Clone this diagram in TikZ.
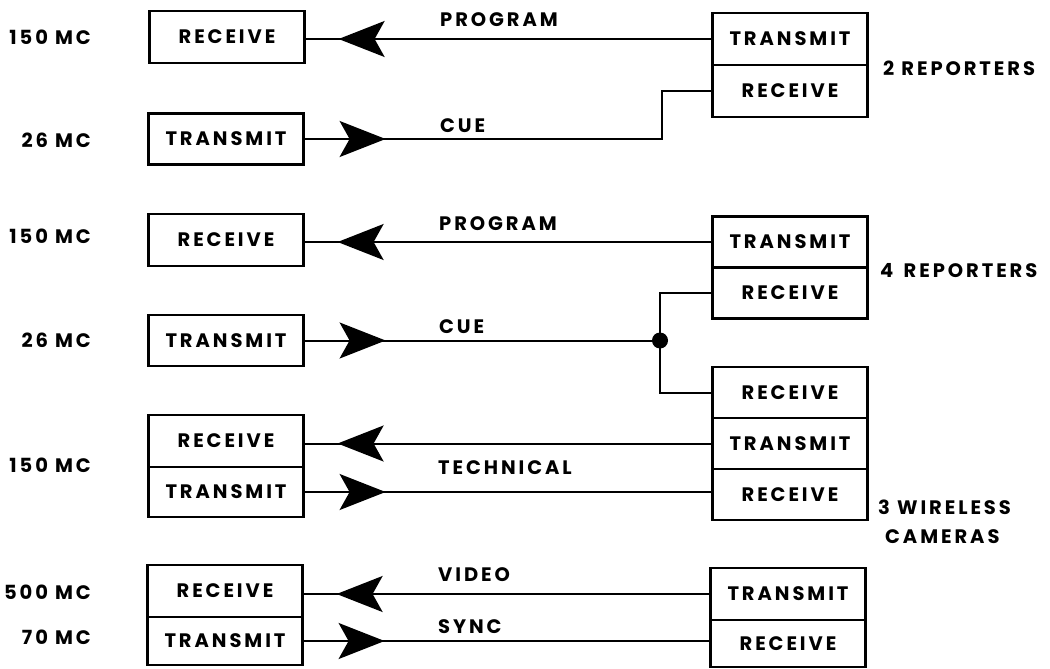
\documentclass[tikz,border=0pt]{standalone}
\usepackage{fontspec}
\setmainfont{Poppins}[LetterSpace=15]
\usetikzlibrary{arrows.meta,decorations.markings}
\newcommand\dlabfont{\fontsize{19.5}{19.5}\selectfont\bfseries}
\begin{document}
\begin{tikzpicture}[x=1pt,y=-1pt,
  box/.style={draw,line width=2.2pt,minimum width=155pt,minimum height=#1,inner sep=0pt,font=\dlabfont},
  box/.default=52pt,
  txt/.style={inner sep=0pt,font=\dlabfont},
  conn/.style={line width=2pt},
  tipL/.style={postaction={decorate},decoration={markings,mark=at position -33pt with {\arrow{Stealth[length=46pt,width=36pt,inset=10pt]}}}},
  tipR/.style={postaction={decorate},decoration={markings,mark=at position 81pt with {\arrow{Stealth[length=46pt,width=36pt,inset=10pt]}}}},
  junction/.style={circle,fill,inner sep=0pt,minimum size=16pt}]
\useasboundingbox (0,0) rectangle (1050,669);

% left boxes
\node[box] (l1) at (227,37) {RECEIVE};
\node[box=51pt] (l2) at (226,139) {TRANSMIT};
\node[box] (l3) at (226,240) {RECEIVE};
\node[box=51pt] (l4) at (226,340.5) {TRANSMIT};
\node[box] (l5) at (226,441) {RECEIVE};
\node[box=50pt] (l6) at (226,492) {TRANSMIT};
\node[box] (l7) at (225,591) {RECEIVE};
\node[box=48pt] (l8) at (225,641) {TRANSMIT};

% right boxes
\node[box] (r1t) at (790,39) {TRANSMIT};
\node[box] (r1r) at (790,91) {RECEIVE};
\node[box=51pt] (r2t) at (790,242) {TRANSMIT};
\node[box=51pt] (r2r) at (790,293) {RECEIVE};
\node[box=51pt] (c1) at (790,392.5) {RECEIVE};
\node[box=51pt] (c2) at (790,443.5) {TRANSMIT};
\node[box=51pt] (c3) at (790,494.5) {RECEIVE};
\node[box] (r4t) at (788,594) {TRANSMIT};
\node[box=47pt] (r4r) at (788,643.5) {RECEIVE};

% frequency labels
\node[txt,anchor=east] (f1) at (91,37) {150 MC};
\node[txt,anchor=east] (f2) at (91,140) {26 MC};
\node[txt,anchor=east] (f3) at (91,236) {150 MC};
\node[txt,anchor=east] (f4) at (91,340) {26 MC};
\node[txt,anchor=east] (f5) at (91,465) {150 MC};
\node[txt,anchor=east] (f6) at (91,592) {500 MC};
\node[txt,anchor=east] (f7) at (91,637) {70 MC};

% group labels
\node[txt,anchor=west] (g1) at (883,68) {2 REPORTERS};
\node[txt,anchor=west] (g2) at (880,271) {4\, REPORTERS};
\node[txt,anchor=west] (g3) at (878,507) {3 WIRELESS};
\node[txt,anchor=west] (g4) at (885,537) {CAMERAS};

% link labels
\node[txt,anchor=west] (p1) at (440,20) {PROGRAM};
\node[txt,anchor=west] (q1) at (440,126) {CUE};
\node[txt,anchor=west] (p2) at (439,224) {PROGRAM};
\node[txt,anchor=west] (q2) at (439,327) {CUE};
\node[txt,anchor=west] (t1) at (438,467.5) {TECHNICAL};
\node[txt,anchor=west] (v1) at (438,575) {VIDEO};
\node[txt,anchor=west] (s1) at (438,627) {SYNC};

% connectors
\coordinate (k1) at (662,0);
\node[junction] (j) at (660,340.5) {};

\draw[conn,tipL] (r1t.west) -- (r1t.west -| l1.east);
\draw[conn,tipR] (l2.east) -| (k1 |- r1r.west) -- (r1r.west);
\draw[conn,tipL] (r2t.west) -- (r2t.west -| l3.east);
\draw[conn,tipR] (l4.east) -- (j.center);
\draw[conn] (r2r.west) -| (j.center) |- (c1.west);
\draw[conn,tipL] (c2.west) -- (c2.west -| l5.east);
\draw[conn,tipR] (l6.east) -- (l6.east -| c3.west);
\draw[conn,tipL] (r4t.west) -- (r4t.west -| l7.east);
\draw[conn,tipR] (l8.east) -- (l8.east -| r4r.west);
\end{tikzpicture}
\end{document}
